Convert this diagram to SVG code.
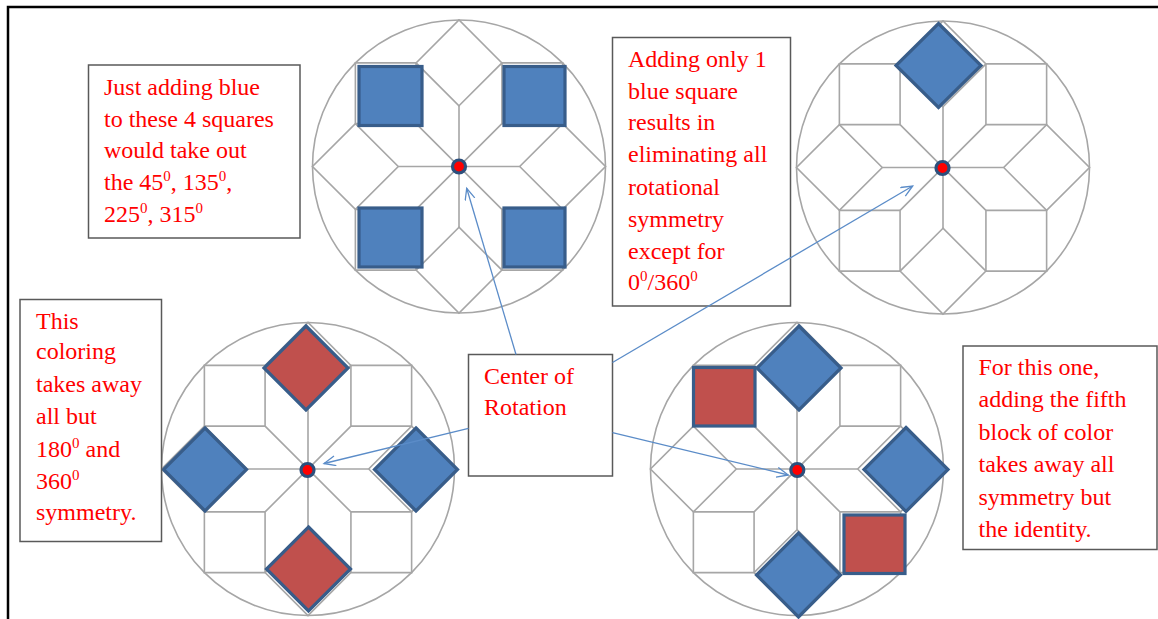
<svg xmlns="http://www.w3.org/2000/svg" xmlns:xlink="http://www.w3.org/1999/xlink" width="1158" height="619" viewBox="0 0 1158 619">
<style>
.pat{fill:none;stroke:#a6a6a6;stroke-width:1.6}
.blue{fill:#4f81bd;stroke:#385d8a;stroke-width:3.2;stroke-linejoin:miter}
.red{fill:#c0504d;stroke:#385d8a;stroke-width:3.2;stroke-linejoin:miter}
.dot{fill:#ff0000;stroke:#2c4f7c;stroke-width:3.2}
.box{fill:#ffffff;stroke:#595959;stroke-width:1.5}
.txt{font-family:"Liberation Serif","Times New Roman",serif;font-size:24px;fill:#ff0000}
.sup{font-size:15px}
.conn{fill:none;stroke:#5b8cc8;stroke-width:1.3}
.frame{fill:none;stroke:#000000;stroke-width:2.5}
</style>
<defs>
<g id="pattern" class="pat">
<circle cx="0" cy="0" r="146.5"/>
<path d="M-60.7,0 H60.7 M0,-60.7 V60.7 M-42.92,-42.92 L42.92,42.92 M42.92,-42.92 L-42.92,42.92"/>
<polygon points="60.7,0 103.62,42.92 146.54,0 103.62,-42.92"/>
<polygon points="42.92,-42.92 103.62,-42.92 103.62,-103.62 42.92,-103.62"/>
<polygon points="0,-60.7 42.92,-103.62 0,-146.54 -42.92,-103.62"/>
<polygon points="-42.92,-42.92 -42.92,-103.62 -103.62,-103.62 -103.62,-42.92"/>
<polygon points="-60.7,0 -103.62,-42.92 -146.54,0 -103.62,42.92"/>
<polygon points="-42.92,42.92 -103.62,42.92 -103.62,103.62 -42.92,103.62"/>
<polygon points="0,60.7 -42.92,103.62 0,146.54 42.92,103.62"/>
<polygon points="42.92,42.92 42.92,103.62 103.62,103.62 103.62,42.92"/>
</g>
<marker id="arrow" markerUnits="userSpaceOnUse" markerWidth="14" markerHeight="12" refX="12" refY="5.5" orient="auto" viewBox="0 0 14 12">
<path d="M0.5,0.5 L12,5.5 L0.5,10.5" fill="none" stroke="#5b8cc8" stroke-width="1.3"/>
</marker>
</defs>

<g id="frame">
<path class="frame" d="M8,619 V7 H1158"/>
</g>

<g id="circle-top-left">
<use xlink:href="#pattern" href="#pattern" transform="translate(459,166.5)"/>
<rect class="blue" x="359" y="66.5" width="63" height="59"/>
<rect class="blue" x="504" y="66.5" width="61" height="59"/>
<rect class="blue" x="359" y="208" width="63" height="59"/>
<rect class="blue" x="504" y="208" width="61" height="59"/>
<circle class="dot" cx="459" cy="166.5" r="6.5"/>
</g>

<g id="circle-top-right">
<use xlink:href="#pattern" href="#pattern" transform="translate(943,167.5)"/>
<polygon class="blue" points="938.5,23.5 981,65.5 938.5,107.5 896,65.5"/>
<circle class="dot" cx="942.5" cy="168" r="6.5"/>
</g>

<g id="circle-bottom-left">
<use xlink:href="#pattern" href="#pattern" transform="translate(308,469)"/>
<polygon class="red" points="306,326 348,368 306,410 264,368"/>
<polygon class="red" points="308.5,527 350.5,569 308.5,611 266.5,569"/>
<polygon class="blue" points="205,428 246.5,469.5 205,511 163.5,469.5"/>
<polygon class="blue" points="416,428 457.5,469.5 416,511 374.5,469.5"/>
<circle class="dot" cx="307.5" cy="470" r="6.5"/>
</g>

<g id="circle-bottom-right">
<use xlink:href="#pattern" href="#pattern" transform="translate(797,469)"/>
<rect class="red" x="693.5" y="367.5" width="61.5" height="58.5"/>
<rect class="red" x="844" y="515" width="61" height="58.5"/>
<polygon class="blue" points="799,326 841,368 799,410 757,368"/>
<polygon class="blue" points="906,427.5 948,469.5 906,511.5 864,469.5"/>
<polygon class="blue" points="798.5,533 840.5,575 798.5,617 756.5,575"/>
<circle class="dot" cx="797.3" cy="470" r="6.5"/>
</g>

<g id="note-four-squares">
<rect class="box" x="88.5" y="65" width="211.5" height="173"/>
<text class="txt" x="104" y="95">Just adding blue</text>
<text class="txt" x="104" y="127">to these 4 squares</text>
<text class="txt" x="104" y="158">would take out</text>
<text class="txt" x="104" y="190">the 45<tspan class="sup" dy="-9">0</tspan><tspan dy="9">, 135</tspan><tspan class="sup" dy="-9">0</tspan><tspan dy="9">,</tspan></text>
<text class="txt" x="104" y="222">225<tspan class="sup" dy="-9">0</tspan><tspan dy="9">, 315</tspan><tspan class="sup" dy="-9">0</tspan></text>
</g>

<g id="note-one-square">
<rect class="box" x="612.5" y="37.5" width="178" height="268.5"/>
<text class="txt" x="628" y="67">Adding only 1</text>
<text class="txt" x="628" y="98.5">blue square</text>
<text class="txt" x="628" y="130">results in</text>
<text class="txt" x="628" y="162">eliminating all</text>
<text class="txt" x="628" y="195">rotational</text>
<text class="txt" x="628" y="227">symmetry</text>
<text class="txt" x="628" y="259">except for</text>
<text class="txt" x="628" y="290">0<tspan class="sup" dy="-9">0</tspan><tspan dy="9">/360</tspan><tspan class="sup" dy="-9">0</tspan></text>
</g>

<g id="note-coloring">
<rect class="box" x="20" y="299.5" width="141.5" height="242"/>
<text class="txt" x="36" y="328.5">This</text>
<text class="txt" x="36" y="358.5">coloring</text>
<text class="txt" x="36" y="391.5">takes away</text>
<text class="txt" x="36" y="423.5">all but</text>
<text class="txt" x="36" y="456.5">180<tspan class="sup" dy="-9">0</tspan><tspan dy="9"> and</tspan></text>
<text class="txt" x="36" y="488.5">360<tspan class="sup" dy="-9">0</tspan></text>
<text class="txt" x="36" y="520">symmetry.</text>
</g>

<g id="note-fifth-block">
<rect class="box" x="963" y="346" width="194" height="203.5"/>
<text class="txt" x="978.5" y="375">For this one,</text>
<text class="txt" x="978.5" y="407">adding the fifth</text>
<text class="txt" x="978.5" y="440">block of color</text>
<text class="txt" x="978.5" y="472">takes away all</text>
<text class="txt" x="978.5" y="505">symmetry but</text>
<text class="txt" x="978.5" y="537">the identity.</text>
</g>

<g id="center-of-rotation">
<rect class="box" x="468.5" y="354.5" width="144" height="121.5"/>
<text class="txt" x="484" y="384">Center of</text>
<text class="txt" x="484" y="415">Rotation</text>
</g>

<g id="connectors">
<line class="conn" x1="516" y1="354.5" x2="466.7" y2="188.3" marker-end="url(#arrow)"/>
<line class="conn" x1="612.5" y1="362.5" x2="912.7" y2="186" marker-end="url(#arrow)"/>
<line class="conn" x1="468.5" y1="428.3" x2="324" y2="463.5" marker-end="url(#arrow)"/>
<line class="conn" x1="612.5" y1="432.7" x2="788.3" y2="475" marker-end="url(#arrow)"/>
</g>
</svg>
